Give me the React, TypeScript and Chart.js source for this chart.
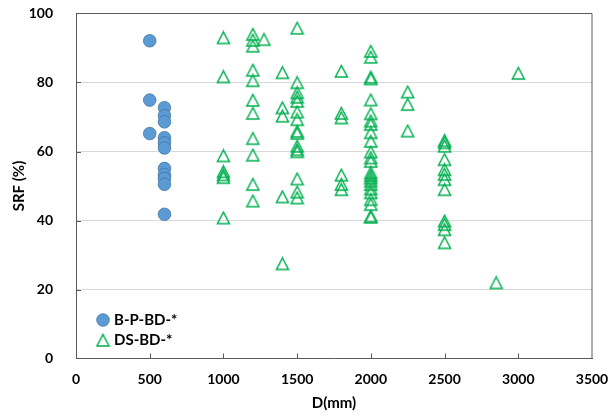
import { useEffect, useRef } from 'react';
import { Chart, registerables } from 'chart.js';

Chart.register(...registerables);

// Axis ranges and tick spacing
const xMin = 0;
const xMax = 3500;
const xStep = 500;
const yMin = 0;
const yMax = 100;
const yStep = 20;

// B-P-BD-* specimens: SRF (%) by diameter D (mm)
const bpAt500 = [92.1, 74.9, 65.2];
const bpAt600 = [72.7, 70.4, 68.6, 64.0, 62.5, 61.0, 55.1, 53.3, 52.2, 50.5, 41.8];

// DS-BD-* specimens: SRF (%) by diameter D (mm)
const dsAt1000 = [92.9, 81.6, 58.7, 54.1, 53.2, 52.4, 40.7];
const dsAt1200 = [93.9, 92.2, 90.5, 83.5, 80.5, 74.8, 71.0, 63.7, 58.9, 50.4, 45.6];
const dsAt1275 = [92.4];
const dsAt1400 = [82.8, 72.6, 70.2, 46.8, 27.4];
const dsAt1500 = [95.7, 79.9, 77.0, 75.7, 74.5, 71.4, 69.2, 65.8, 65.2, 61.5, 60.5, 59.9, 52.0, 48.2, 46.5];
const dsAt1800 = [83.2, 71.0, 69.7, 53.1, 50.4, 48.9];
const dsAt2000 = [89.0, 87.3, 81.5, 81.0, 74.9, 70.9, 68.8, 67.8, 65.4, 62.9, 59.8, 58.1, 57.1, 53.8, 53.0, 52.3, 51.4, 50.4, 49.1, 48.0, 46.0, 44.6, 41.2, 40.9];
const dsAt2250 = [77.2, 73.6, 65.9];
const dsAt2500 = [63.1, 62.5, 61.5, 57.6, 54.7, 53.3, 51.8, 48.9, 39.8, 38.8, 37.3, 33.5];
const dsAt2850 = [21.9];
const dsAt3000 = [82.6];

const bpGroups: [number, number[]][] = [
  [500, bpAt500],
  [600, bpAt600],
];
const dsGroups: [number, number[]][] = [
  [1000, dsAt1000],
  [1200, dsAt1200],
  [1275, dsAt1275],
  [1400, dsAt1400],
  [1500, dsAt1500],
  [1800, dsAt1800],
  [2000, dsAt2000],
  [2250, dsAt2250],
  [2500, dsAt2500],
  [2850, dsAt2850],
  [3000, dsAt3000],
];

const seriesNames = ['B-P-BD-*', 'DS-BD-*'];
const xTitle = 'D(mm)';
const yTitle = 'SRF (%)';

const BLUE_FILL = '#5B9BD5';
const BLUE_EDGE = '#41719C';
const GREEN = '#00B050';
const AXIS = '#595959';
const GRID = '#D9D9D9';
const CLEAR = 'rgba(0,0,0,0)';
const FONT = 'Lato, "Open Sans", sans-serif';

const toPoints = (groups: [number, number[]][]) =>
  groups.flatMap(([d, vals]) => vals.map((v) => ({ x: d, y: v })));

// Open triangle marker, centred in its own box
function makeTriangle(): HTMLCanvasElement {
  const c = document.createElement('canvas');
  c.width = 15;
  c.height = 15;
  const ctx = c.getContext('2d')!;
  ctx.strokeStyle = GREEN;
  ctx.lineWidth = 1.5;
  ctx.beginPath();
  ctx.moveTo(7.5, 1.5);
  ctx.lineTo(13.5, 13);
  ctx.lineTo(1.5, 13);
  ctx.closePath();
  ctx.stroke();
  return c;
}

export default function App() {
  const ref = useRef<HTMLCanvasElement | null>(null);

  useEffect(() => {
    document.body.style.margin = '0';
    const canvas = ref.current;
    if (!canvas) return;
    const tri = makeTriangle();

    // Plot frame (top/right), inward tick marks and in-plot legend
    const decorations = {
      id: 'decorations',
      beforeDatasetsDraw(chart: any) {
        const { ctx, chartArea: a, scales } = chart;
        ctx.save();
        ctx.strokeStyle = AXIS;
        ctx.lineWidth = 1;
        ctx.beginPath();
        ctx.moveTo(a.left, a.top);
        ctx.lineTo(a.right, a.top);
        ctx.lineTo(a.right, a.bottom);
        const x = scales.x;
        for (let v = xMin + xStep; v < xMax; v += xStep) {
          const px = Math.round(x.getPixelForValue(v)) + 0.5;
          ctx.moveTo(px, a.bottom);
          ctx.lineTo(px, a.bottom - 5);
        }
        const y = scales.y;
        for (let v = yMin + yStep; v < yMax; v += yStep) {
          const py = Math.round(y.getPixelForValue(v)) + 0.5;
          ctx.moveTo(a.left, py);
          ctx.lineTo(a.left + 5, py);
        }
        ctx.stroke();
        ctx.restore();
      },
      afterDraw(chart: any) {
        const { ctx, chartArea: a } = chart;
        ctx.save();
        const mx = a.left + 27;
        const y1 = a.bottom - 38.5;
        const y2 = a.bottom - 18;
        ctx.fillStyle = BLUE_FILL;
        ctx.strokeStyle = BLUE_EDGE;
        ctx.lineWidth = 0.75;
        ctx.beginPath();
        ctx.arc(mx, y1, 6.3, 0, Math.PI * 2);
        ctx.fill();
        ctx.stroke();
        ctx.drawImage(tri, mx - 7.5, y2 - 7.5);
        ctx.fillStyle = '#000';
        ctx.font = `bold 15px ${FONT}`;
        ctx.textBaseline = 'middle';
        ctx.textAlign = 'left';
        ctx.fillText(seriesNames[0], mx + 11, y1);
        ctx.fillText(seriesNames[1], mx + 11, y2);
        ctx.restore();
      },
    };

    const tickFont = { family: FONT, size: 14, weight: 'bold' as const };
    const titleFont = { family: FONT, size: 15, weight: 'bold' as const };

    const chart = new Chart(canvas, {
      type: 'scatter',
      data: {
        datasets: [
          {
            label: seriesNames[0],
            data: toPoints(bpGroups),
            pointStyle: 'circle',
            pointRadius: 6.3,
            pointBackgroundColor: BLUE_FILL,
            pointBorderColor: BLUE_EDGE,
            pointBorderWidth: 0.75,
          },
          {
            label: seriesNames[1],
            data: toPoints(dsGroups),
            pointStyle: tri,
            pointRadius: 7,
          },
        ],
      },
      options: {
        animation: false,
        responsive: false,
        devicePixelRatio: 1,
        events: [],
        layout: { padding: { top: 13.5, right: 21, left: 0, bottom: 0 } },
        plugins: {
          legend: { display: false },
          tooltip: { enabled: false },
        },
        scales: {
          x: {
            type: 'linear',
            min: xMin,
            max: xMax,
            afterFit: (s: any) => {
              s.height = 58.5;
            },
            ticks: {
              stepSize: xStep,
              color: '#000',
              font: tickFont,
              padding: 3,
              callback: (v: any) => String(v),
            },
            grid: { drawOnChartArea: false, tickLength: 10, tickColor: CLEAR },
            border: { display: true, color: AXIS, width: 1 },
            title: {
              display: true,
              text: xTitle,
              color: '#000',
              font: titleFont,
              padding: { top: 0, bottom: 5 },
            },
          },
          y: {
            type: 'linear',
            min: yMin,
            max: yMax,
            afterFit: (s: any) => {
              s.width = 76;
            },
            ticks: {
              stepSize: yStep,
              color: '#000',
              font: tickFont,
              padding: 3,
              callback: (v: any) => String(v),
            },
            grid: {
              tickLength: 20,
              tickColor: CLEAR,
              color: (c: any) =>
                c.tick && (c.tick.value === yMin || c.tick.value === yMax) ? CLEAR : GRID,
            },
            border: { display: true, color: AXIS, width: 1 },
            title: {
              display: true,
              text: yTitle,
              color: '#000',
              font: titleFont,
              padding: { top: 10, bottom: 0 },
            },
          },
        },
      },
      plugins: [decorations],
    });

    return () => chart.destroy();
  }, []);

  return (
    <div style={{ width: 613, height: 417 }}>
      <canvas ref={ref} width={613} height={417} style={{ display: 'block' }} />
    </div>
  );
}
